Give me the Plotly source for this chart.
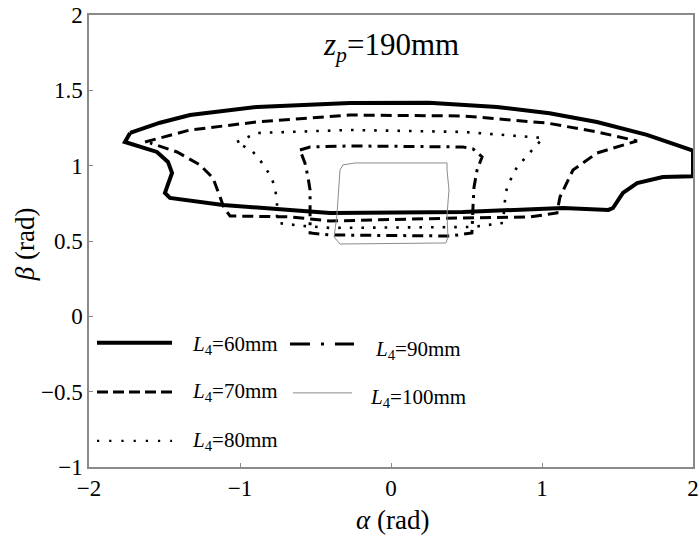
import plotly.graph_objects as go

# L4 = 60 mm (solid, thick)
alpha_60 = [-1.728, -1.53, -1.331, -0.887, -0.272, 0.25, 0.702, 1.05, 1.364, 1.695, 2.0,
            2.0, 1.80, 1.63, 1.536, 1.47, 1.44, 1.139, 0.477, -0.404, -0.669, -1.113,
            -1.464, -1.497, -1.483, -1.450, -1.477, -1.550, -1.762, -1.728]
beta_60 = [1.217, 1.285, 1.336, 1.390, 1.416, 1.418, 1.390, 1.348, 1.290, 1.204, 1.10,
           0.93, 0.925, 0.885, 0.819, 0.719, 0.706, 0.719, 0.693, 0.686, 0.706, 0.739,
           0.786, 0.819, 0.859, 0.952, 1.025, 1.091, 1.157, 1.217]

# L4 = 70 mm (dashed)
alpha_70 = [-1.629, -1.331, -0.887, -0.272, 0.477, 1.033, 1.364, 1.629,
            1.364, 1.205, 1.119, 1.099, 0.921, 0.477, -0.404, -0.669, -1.066,
            -1.106, -1.132, -1.179, -1.265, -1.417, -1.596]
beta_70 = [1.157, 1.237, 1.290, 1.336, 1.330, 1.283, 1.224, 1.164,
           1.084, 0.971, 0.792, 0.686, 0.660, 0.653, 0.633, 0.660, 0.666,
           0.719, 0.792, 0.918, 1.005, 1.091, 1.151]

# L4 = 80 mm (dotted)
alpha_80 = [-1.020, -0.887, -0.272, 0.477, 1.007, 0.921, 0.834, 0.768, 0.755, 0.742,
            0.543, -0.404, -0.583, -0.755, -0.755, -0.768, -0.801, -0.868, -0.914, -1.020]
beta_80 = [1.157, 1.217, 1.237, 1.224, 1.184, 1.091, 0.991, 0.859, 0.772, 0.620,
           0.593, 0.587, 0.600, 0.620, 0.752, 0.859, 0.938, 1.038, 1.091, 1.157]

# L4 = 90 mm (dash-dot)
alpha_90 = [-0.603, -0.536, -0.272, 0.477, 0.543, 0.603, 0.570, 0.550, 0.543, 0.536,
            0.391, -0.404, -0.536, -0.536, -0.536, -0.550, -0.570, -0.603]
beta_90 = [1.104, 1.124, 1.131, 1.124, 1.111, 1.058, 0.971, 0.859, 0.726, 0.553,
           0.533, 0.540, 0.553, 0.706, 0.839, 0.925, 1.018, 1.104]

# L4 = 100 mm (thin)
alpha_100 = [-0.318, -0.238, 0.371, 0.371, 0.384, 0.371, 0.377, 0.364, -0.338, -0.377,
             -0.358, -0.345, -0.338, -0.318]
beta_100 = [1.005, 1.018, 1.018, 0.971, 0.839, 0.673, 0.527, 0.487, 0.480, 0.527,
            0.673, 0.839, 0.971, 1.005]

legend_labels = ["60", "70", "80", "90", "100"]
x_ticks = [-2, -1, 0, 1, 2]
y_ticks = [-1, -0.5, 0, 0.5, 1, 1.5, 2]

FONT = "Liberation Serif"
styles = [
    dict(color="black", width=4, dash="solid"),
    dict(color="black", width=3, dash="11px,6px"),
    dict(color="black", width=2.6, dash="2.6px,9px"),
    dict(color="black", width=3, dash="11px,6px,3px,6px"),
    dict(color="#8c8c8c", width=1, dash="solid"),
]
legend_styles = [
    dict(color="black", width=4, dash="solid"),
    dict(color="black", width=3, dash="11px,5px"),
    dict(color="black", width=2.2, dash="2.2px,10px"),
    dict(color="black", width=3, dash="20px,11px,3px,11px"),
    dict(color="#8c8c8c", width=1, dash="solid"),
]
series = [(alpha_60, beta_60), (alpha_70, beta_70), (alpha_80, beta_80),
          (alpha_90, beta_90), (alpha_100, beta_100)]

fig = go.Figure()
for (a, b), st, lab in zip(series, styles, legend_labels):
    fig.add_trace(go.Scatter(x=a, y=b, mode="lines", line=st, showlegend=False,
                             name=f"L4={lab}mm", hoverinfo="skip"))

# manual legend (two columns): sample x0, x1, y ; label x, y
leg_pos = [(-1.947, -1.45, -0.176, -1.33, -0.19),
           (-1.947, -1.45, -0.502, -1.33, -0.50),
           (-1.947, -1.45, -0.827, -1.33, -0.827),
           (-0.669, -0.245, -0.183, -0.12, -0.223),
           (-0.649, -0.258, -0.508, -0.155, -0.541)]
for (x0, x1, y, lx, ly), st, lab in zip(leg_pos, legend_styles, legend_labels):
    fig.add_shape(type="line", x0=x0, x1=x1, y0=y, y1=y, line=st, xref="x", yref="y")
    fig.add_annotation(x=lx, y=ly, xref="x", yref="y", xanchor="left", showarrow=False,
                       text=f"<i>L</i><sub>4</sub>=<span>{lab}mm</span>",
                       font=dict(family=FONT, size=21, color="black"))

fig.add_annotation(x=0, y=1.79, xref="x", yref="y", showarrow=False,
                   text="<i>z<sub>p</sub></i>=190mm",
                   font=dict(family=FONT, size=31, color="black"))

# axis titles
fig.add_annotation(x=0.503, y=-0.117, xref="paper", yref="paper", xanchor="center",
                   yanchor="middle", showarrow=False, text="<i>α</i> (rad)",
                   font=dict(family=FONT, size=27, color="black"))
fig.add_annotation(x=-0.106, y=0.493, xref="paper", yref="paper", xanchor="center",
                   yanchor="middle", showarrow=False, text="<i>β</i> (rad)", textangle=-90,
                   font=dict(family=FONT, size=27, color="black"))

axis_common = dict(showgrid=False, zeroline=False, showline=True, mirror=True,
                   linecolor="#8a8a8a", linewidth=1.5, ticks="inside", ticklen=4,
                   tickcolor="#8a8a8a", automargin=False, ticklabeloverflow="allow",
                   tickfont=dict(family=FONT, size=23, color="black"))
fig.update_xaxes(range=[-2, 2], tickvals=x_ticks, **axis_common)
fig.update_yaxes(range=[-1, 2], tickvals=y_ticks, **axis_common)
fig.update_layout(width=700, height=544, margin=dict(l=89, r=7, t=15, b=77),
                  plot_bgcolor="white", paper_bgcolor="white", showlegend=False)
fig.write_html("out.html", config={"displayModeBar": False},
               post_script="document.body.style.margin='0';document.body.style.padding='0';")
